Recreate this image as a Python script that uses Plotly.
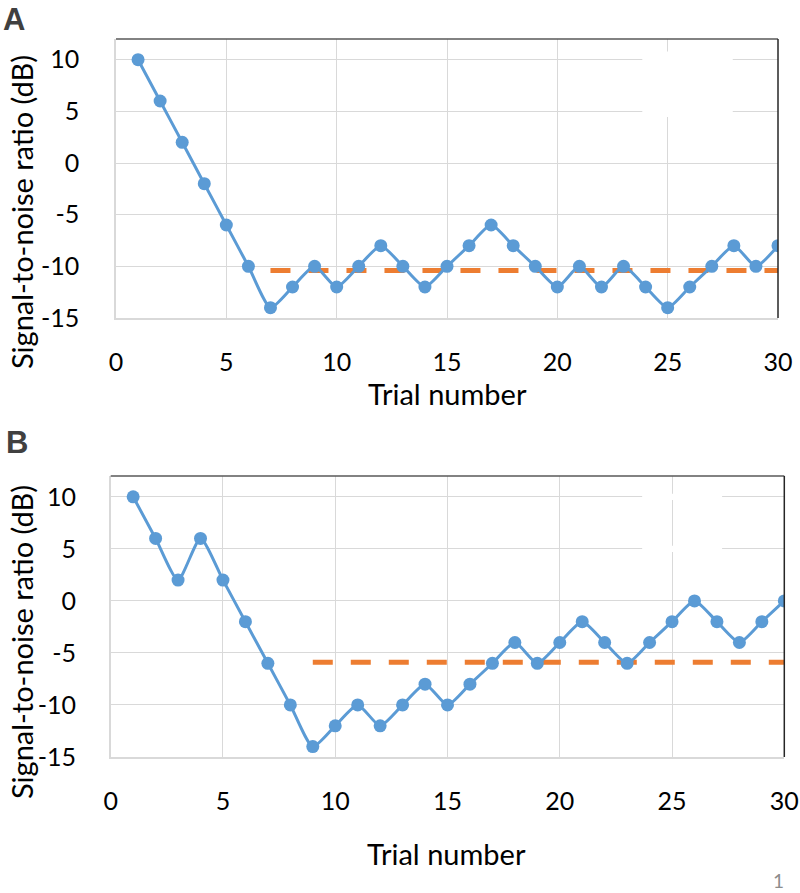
import plotly.graph_objects as go

trials = list(range(1, 31))
snr_a = [10, 6, 2, -2, -6, -10, -14, -12, -10, -12, -10, -8, -10, -12, -10,
         -8, -6, -8, -10, -12, -10, -12, -10, -12, -14, -12, -10, -8, -10, -8]
snr_b = [10, 6, 2, 6, 2, -2, -6, -10, -14, -12, -10, -12, -10, -8, -10,
         -8, -6, -4, -6, -4, -2, -4, -6, -4, -2, 0, -2, -4, -2, 0]
thr_a_x = [7, 30]
thr_a_y = [-10.4, -10.4]
thr_b_x = [9, 30]
thr_b_y = [-5.9, -5.9]
x_ticks = [0, 5, 10, 15, 20, 25, 30]
y_ticks = [-15, -10, -5, 0, 5, 10]
y_tick_text = ["-15", "-10", "-5", "0", "5", "10"]

W, H = 800, 893
BLUE = "#5B9BD5"
ORANGE = "#ED7D31"
GRID = "#D9D9D9"
FONT = "Lato"


def px(x):
    return x / W


def py(y):
    return 1 - y / H


fig = go.Figure()

for i, (ys, tx, ty) in enumerate([(snr_a, thr_a_x, thr_a_y), (snr_b, thr_b_x, thr_b_y)]):
    xa = "x" if i == 0 else "x2"
    ya = "y" if i == 0 else "y2"
    fig.add_trace(go.Scatter(x=tx, y=ty, mode="lines", xaxis=xa, yaxis=ya,
                             line=dict(color=ORANGE, width=5, dash="20px,18px"),
                             showlegend=False, hoverinfo="skip"))
    fig.add_trace(go.Scatter(x=trials, y=ys, mode="lines+markers", xaxis=xa, yaxis=ya,
                             line=dict(color=BLUE, width=3, shape="spline", smoothing=0.6),
                             marker=dict(color=BLUE, size=13),
                             showlegend=False))

# Pixel geometry of the two plot areas (reference page pixels)
A = dict(l=116, r=778, t=39, b=318)
B = dict(l=110.7, r=784.3, t=476, b=757)


def xdom(p):
    return [px(p["l"]), px(p["r"])]


def ydom(p):
    return [py(p["b"]), py(p["t"])]


def xaxis_cfg(p, standoff):
    return dict(domain=xdom(p), range=[0, 30], tickvals=x_ticks,
                showgrid=True, gridcolor=GRID, gridwidth=1,
                showline=True, linecolor=GRID, linewidth=1.5,
                zeroline=False, ticks="", ticklabelstandoff=standoff,
                tickfont=dict(family=FONT, size=25, color="black"),
                automargin=False, fixedrange=True)


def yaxis_cfg(p, anchor, standoff):
    return dict(domain=ydom(p), range=[-15, 12], tickvals=y_ticks, ticktext=y_tick_text,
                showgrid=True, gridcolor=GRID, gridwidth=1,
                showline=True, linecolor=GRID, linewidth=1.5,
                zeroline=False, ticks="", ticklabelstandoff=standoff,
                tickfont=dict(family=FONT, size=25, color="black"),
                anchor=anchor, automargin=False, fixedrange=True)


shapes = []
for xr, yr in [("x", "y"), ("x2", "y2")]:
    shapes.append(dict(type="line", xref=f"{xr} domain", yref=f"{yr} domain",
                       x0=0, x1=1, y0=1, y1=1, line=dict(color="#595959", width=1.5)))
    shapes.append(dict(type="line", xref=f"{xr} domain", yref=f"{yr} domain",
                       x0=1, x1=1, y0=0, y1=1, line=dict(color="#262626", width=1.5)))

# white patches where the legend was erased
shapes.append(dict(type="rect", xref="x", yref="y", x0=23.85, x1=27.95, y0=4.45, y1=10.8,
                   fillcolor="white", line=dict(width=0), layer="between"))
for yc in [10, 5]:
    shapes.append(dict(type="rect", xref="x2", yref="y2", x0=23.67, x1=27.23,
                       y0=yc - 0.3, y1=yc + 0.3,
                       fillcolor="white", line=dict(width=0), layer="between"))

annotations = [
    dict(text="<b>A</b>", x=px(2), y=py(1), xref="paper", yref="paper",
         xanchor="left", yanchor="top", showarrow=False, borderpad=0,
         font=dict(family="Liberation Sans", size=31, color="#404040")),
    dict(text="<b>B</b>", x=px(5), y=py(424), xref="paper", yref="paper",
         xanchor="left", yanchor="top", showarrow=False, borderpad=0,
         font=dict(family="Liberation Sans", size=31, color="#404040")),
    dict(text="Signal-to-noise ratio (dB)", x=px(21), y=py(212), xref="paper", yref="paper",
         xanchor="center", yanchor="middle", textangle=-90, showarrow=False, borderpad=0,
         font=dict(family=FONT, size=29, color="black")),
    dict(text="Signal-to-noise ratio (dB)", x=px(21), y=py(642), xref="paper", yref="paper",
         xanchor="center", yanchor="middle", textangle=-90, showarrow=False, borderpad=0,
         font=dict(family=FONT, size=29, color="black")),
    dict(text="Trial number", x=px(447), y=py(394), xref="paper", yref="paper",
         xanchor="center", yanchor="middle", showarrow=False,
         font=dict(family=FONT, size=29, color="black")),
    dict(text="Trial number", x=px(446), y=py(853), xref="paper", yref="paper",
         xanchor="center", yanchor="middle", showarrow=False,
         font=dict(family=FONT, size=29, color="black")),
    dict(text="1", x=px(778), y=py(880), xref="paper", yref="paper",
         xanchor="center", yanchor="middle", showarrow=False, borderpad=0,
         font=dict(family=FONT, size=19, color="#8c8c8c")),
]

fig.update_layout(
    width=W, height=H,
    margin=dict(l=0, r=0, t=0, b=0, pad=0),
    paper_bgcolor="white", plot_bgcolor="white",
    xaxis=xaxis_cfg(A, 21),
    yaxis=yaxis_cfg(A, "x", 30),
    xaxis2=xaxis_cfg(B, 21),
    yaxis2=yaxis_cfg(B, "x2", 28),
    shapes=shapes,
    annotations=annotations,
    font=dict(family=FONT),
)
fig.update_layout(xaxis=dict(anchor="y"), xaxis2=dict(anchor="y2"))

fig.write_html(
    "out.html",
    config={"displayModeBar": False},
    post_script="document.body.style.margin='0';document.body.style.overflow='hidden';",
)
